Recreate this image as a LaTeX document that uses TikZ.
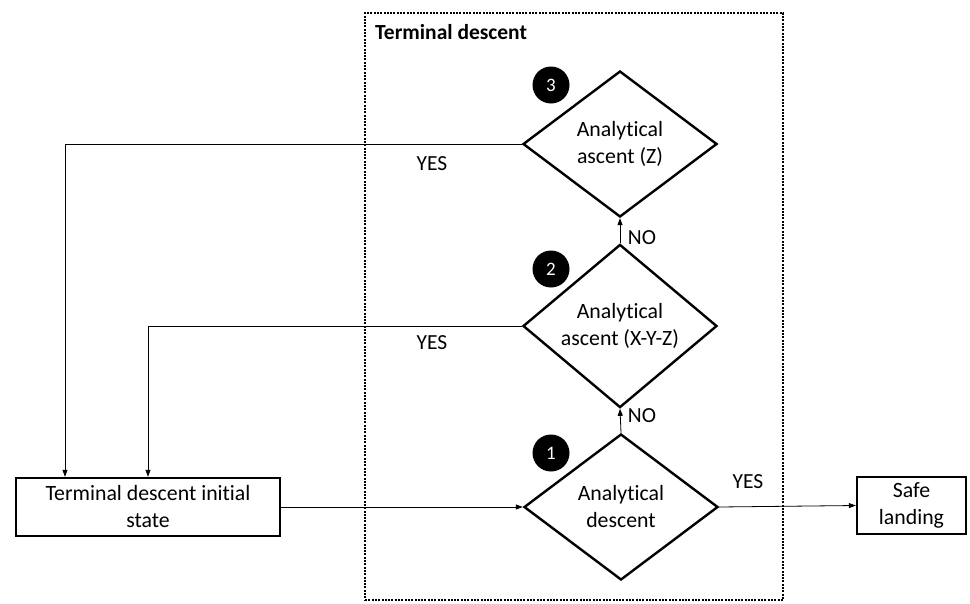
\documentclass[tikz,border=0pt]{standalone}
\usepackage{fontspec}
\setmainfont[Ligatures=NoCommon]{Carlito}
\usetikzlibrary{shapes.geometric,arrows.meta}
\begin{document}
\begin{tikzpicture}[x=1pt,y=-1pt,
  decision/.style={diamond,draw,line width=2.4pt,minimum width=194pt,minimum height=146pt,inner sep=0pt,align=center,font=\fontsize{21.8}{27}\selectfont},
  statebox/.style={rectangle,draw,line width=2.4pt,inner sep=0pt,align=center,font=\fontsize{21.8}{27}\selectfont},
  badge/.style={circle,fill=black,minimum size=37pt,inner sep=0pt,text=white,font=\fontsize{19}{21}\selectfont},
  lbl/.style={font=\fontsize{21.5}{24}\selectfont,inner sep=0pt},
  arr/.style={-{Triangle[length=7pt,width=5pt]},line width=0.8pt},
  group/.style={draw,line width=2pt,dash pattern=on 2pt off 1.3pt}]
\useasboundingbox (0,0) rectangle (970,603);
\node[group,minimum width=418pt,minimum height=587pt,inner sep=0pt] (grp) at (574,306.5) {};
\node[anchor=west,font=\bfseries\fontsize{21.5}{24}\selectfont,inner sep=0pt] (title) at (375,32) {Terminal descent};
\node[decision] (d3) at (620,144) {Analytical\\ascent (Z)};
\node[decision] (d2) at (620,326) {Analytical\\ascent (X-Y-Z)};
\node[decision] (d1) at (621,507) {Analytical\\descent};
\node[badge] (b3) at (551,85) {3};
\node[badge] (b2) at (551,269) {2};
\node[badge] (b1) at (551,453) {1};
\node[statebox,minimum width=264pt,minimum height=58pt] (init) at (148,507) {Terminal descent initial\\state};
\node[statebox,minimum width=109pt,minimum height=57pt] (safe) at (911.5,505.5) {Safe\\landing};
\draw[arr] (init.east) -- (d1.west);
\draw[arr] (d1.east) -- (safe.west);
\draw[arr] (d1.north) -- (d2.south);
\draw[arr] (d2.north) -- (d3.south);
\draw[arr] (d3.west) -| ([xshift=-83pt]init.north);
\draw[arr] (d2.west) -| (init.north);
\node[lbl] (y3) at (432,164) {YES};
\node[lbl] (y2) at (432,343) {YES};
\node[lbl] (y1) at (748,482) {YES};
\node[lbl] (n2) at (642,238) {NO};
\node[lbl] (n1) at (642,416) {NO};
\end{tikzpicture}
\end{document}
